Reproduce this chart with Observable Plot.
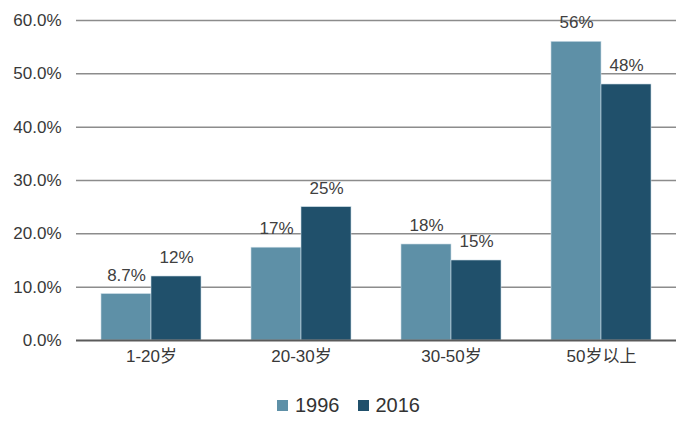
<!DOCTYPE html>
<html>
<head>
<meta charset="utf-8">
<script src="https://cdn.jsdelivr.net/npm/d3@7"></script>
<script src="https://cdn.jsdelivr.net/npm/@observablehq/plot@0.6"></script>
<style>
  html, body { margin: 0; padding: 0; background: #fff; }
  body { width: 693px; height: 435px; overflow: hidden; font-family: "Liberation Sans", Arial, "Noto Sans CJK SC", sans-serif; }
  #legend { display: flex; justify-content: center; align-items: center; margin-top: 23px; height: 24px; font-size: 20px; color: #333; padding-left: 4px; }
  .item { display: flex; align-items: center; margin: 0 9px; }
  .sw { width: 11px; height: 11px; margin-right: 7px; display: inline-block; }
</style>
</head>
<body>
<div id="chart"></div>
<div id="legend"></div>
<script>
const categories = ["1-20岁", "20-30岁", "30-50岁", "50岁以上"];
const years = ["1996", "2016"];
const values1996 = [8.7, 17.4, 18, 56];
const values2016 = [12, 25, 15, 48];
const labels1996 = ["8.7%", "17%", "18%", "56%"];
const labels2016 = ["12%", "25%", "15%", "48%"];
const colors = ["#5e90a7", "#20506b"];
const yTicks = [0, 10, 20, 30, 40, 50, 60];

const rows = [];
categories.forEach((c, i) => {
  rows.push({cat: c, year: years[0], value: values1996[i], label: labels1996[i]});
  rows.push({cat: c, year: years[1], value: values2016[i], label: labels2016[i]});
});

const font = '"Liberation Sans", Arial, "Noto Sans CJK SC", sans-serif';

const chart = Plot.plot({
  width: 693,
  height: 370,
  marginLeft: 75,
  marginRight: 17,
  marginTop: 20,
  marginBottom: 30,
  style: {fontSize: "17px", fontFamily: font, color: "#383838", background: "#fff"},
  fx: {domain: categories, paddingInner: 0, paddingOuter: 0, label: null, axis: null},
  x: {domain: years, paddingInner: 0, paddingOuter: 0.5, axis: null},
  y: {domain: [0, 60], ticks: yTicks, label: null, axis: null},
  color: {domain: years, range: colors},
  marks: [
    Plot.ruleY(yTicks.filter(d => d > 0), {stroke: "#8c8c8c", strokeWidth: 1.5, strokeOpacity: 1}),
    Plot.axisY({ticks: yTicks, tickSize: 0, tickPadding: 15, tickFormat: d => d.toFixed(1) + "%", label: null, fontSize: 17, facetAnchor: "left"}),
    Plot.barY(rows, {fx: "cat", x: "year", y: "value", fill: "year", stroke: "#c9dbe4", strokeWidth: 0.6}),
    Plot.ruleY([0], {stroke: "#5a5a5a", strokeWidth: 2}),
    Plot.text(rows, {fx: "cat", x: "year", y: "value", text: "label", dy: -19, fill: "#404040", fontSize: 17}),
    Plot.axisFx({anchor: "bottom", tickSize: 0, tickPadding: 9, label: null, fontSize: 17})
  ]
});
document.getElementById("chart").appendChild(chart);

const legend = document.getElementById("legend");
years.forEach((y, i) => {
  const item = document.createElement("div");
  item.className = "item";
  const sw = document.createElement("span");
  sw.className = "sw";
  sw.style.background = colors[i];
  const t = document.createElement("span");
  t.textContent = y;
  item.appendChild(sw);
  item.appendChild(t);
  legend.appendChild(item);
});
</script>
</body>
</html>
